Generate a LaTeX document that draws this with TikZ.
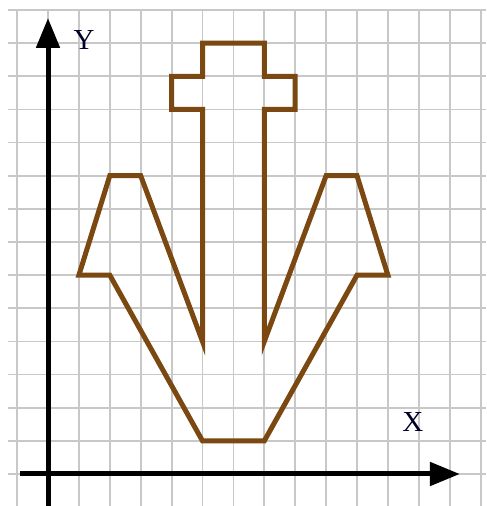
\documentclass[tikz,border=0pt]{standalone}
\usepackage{fontspec}
\newfontfamily\labelfont{Liberation Serif}
\usetikzlibrary{arrows.meta}
\definecolor{shapebrown}{RGB}{122,72,16}
\definecolor{gridgray}{RGB}{200,200,200}
\begin{document}
\begin{tikzpicture}[x=30.9pt,y=33.14pt,
  gridline/.style={draw=gridgray,line width=1.8pt},
  axis/.style={draw=black,line width=5pt,-{Triangle[length=30pt,width=23pt]}},
  outline/.style={draw=shapebrown,line width=5pt,line join=miter},
  axlabel/.style={font=\labelfont\fontsize{29}{30}\selectfont,inner sep=0pt,text=black!85!blue}]
% bounding box: 486 x 506 px, origin at the axes crossing (48,474)
\useasboundingbox[fill=white] (-1.5534,-0.9656) rectangle (14.1748,14.3029);
% grid
\foreach \i in {-1,...,14} \draw[gridline] (\i,-0.97) -- (\i,14);
\foreach \j in {0,...,14} \draw[gridline] (-1.29,\j) -- (14.18,\j);
% axes
\coordinate (ybot) at (0,-0.97);
\coordinate (ytop) at (0,13.76);
\coordinate (xleft) at (-0.906,0);
\coordinate (xright) at (13.33,0);
\draw[axis] (ybot) -- (ytop);
\draw[axis] (xleft) -- (xright);
\node[axlabel] (ylab) at (1.165,13.1) {Y};
\node[axlabel] (xlab) at (11.81,1.57) {X};
% shape
\draw[outline] (5,1) -- (2,6) -- (1,6) -- (2,9) -- (3,9) -- (5,4) -- (5,11)
  -- (4,11) -- (4,12) -- (5,12) -- (5,13) -- (7,13) -- (7,12) -- (8,12)
  -- (8,11) -- (7,11) -- (7,4) -- (9,9) -- (10,9) -- (11,6) -- (10,6)
  -- (7,1) -- cycle;
\end{tikzpicture}
\end{document}
